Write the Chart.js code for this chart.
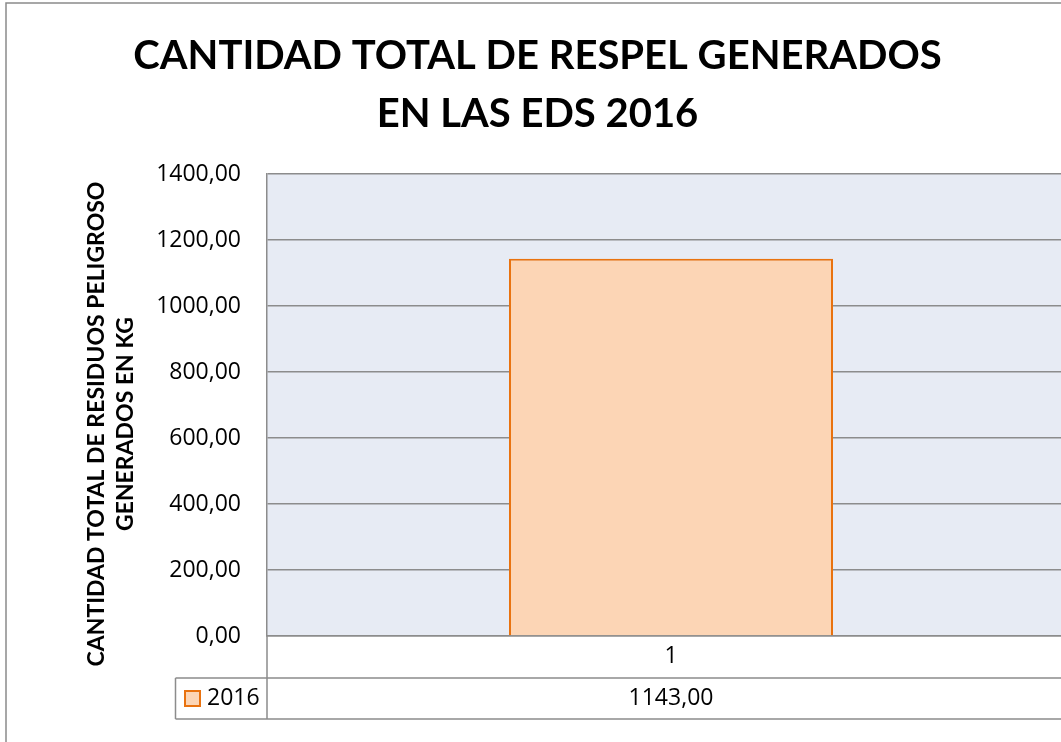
<!DOCTYPE html>
<html>
<head>
<meta charset="utf-8">
<title>Cantidad total de RESPEL generados en las EDS 2016</title>
<style>
  html, body { margin: 0; padding: 0; background: #ffffff; width: 1061px; height: 742px; overflow: hidden; }
  #wrap { position: absolute; left: 0; top: 0; width: 1075px; height: 742px; }
</style>
<script src="https://cdn.jsdelivr.net/npm/chart.js@4/dist/chart.umd.min.js"></script>
</head>
<body>
<div id="wrap"><canvas id="chart" width="1075" height="742"></canvas></div>
<script>
// Chart data
const categories = ['1'];
const seriesName = '2016';
const seriesValues = [1143.00];
const yTickValues = [0, 200, 400, 600, 800, 1000, 1200, 1400];
const titleLines = ['CANTIDAD TOTAL DE RESPEL GENERADOS', 'EN LAS EDS 2016'];
const yTitleLines = ['CANTIDAD TOTAL DE RESIDUOS PELIGROSO', 'GENERADOS EN KG'];

const TITLE_FONT = 'Lato, "Open Sans", "DejaVu Sans", sans-serif';
const TEXT_FONT = '"Open Sans", Lato, "DejaVu Sans", sans-serif';
const GRID = '#8c8c8c';
const PLOT_BG = '#e7ebf4';
const BAR_FILL = '#fcd5b5';
const BAR_LINE = '#e9720f';

// decimal comma, two decimals
const fmt = v => Number(v).toFixed(2).replace('.', ',');

// frame, plot background, titles and the data table under the x axis
const decorations = {
  id: 'decorations',
  beforeDraw(chart) {
    const { ctx, chartArea: a } = chart;
    ctx.save();
    ctx.fillStyle = '#ffffff';
    ctx.fillRect(0, 0, chart.width, chart.height);
    ctx.fillStyle = PLOT_BG;
    ctx.fillRect(a.left, a.top, a.right - a.left, a.bottom - a.top);
    // outer chart frame
    ctx.strokeStyle = '#8a8a8a';
    ctx.lineWidth = 1.5;
    ctx.strokeRect(6, 3, chart.width + 20, chart.height + 20);
    ctx.restore();
  },
  afterDraw(chart) {
    const { ctx, chartArea: a, scales } = chart;
    const x = scales.x;
    ctx.save();
    // main title
    ctx.fillStyle = '#000';
    ctx.textAlign = 'center';
    ctx.textBaseline = 'middle';
    ctx.font = 'bold 40px ' + TITLE_FONT;
    ctx.fillText(titleLines[0], chart.width / 2, 56);
    ctx.fillText(titleLines[1], chart.width / 2, 114);

    // rotated y axis title
    ctx.save();
    ctx.translate(97, 424);
    ctx.rotate(-Math.PI / 2);
    ctx.font = 'bold 23px ' + TITLE_FONT;
    ctx.fillText(yTitleLines[0], 0, 0);
    ctx.fillText(yTitleLines[1], 0, 29);
    ctx.restore();

    // data table
    const rowTop = x.bottom;          // bottom of category row
    const rowBottom = rowTop + 41;
    const legendLeft = 175.5;
    ctx.strokeStyle = GRID;
    ctx.lineWidth = 1.5;
    ctx.beginPath();
    ctx.moveTo(a.left, a.bottom);
    ctx.lineTo(a.left, rowBottom);
    ctx.moveTo(legendLeft, rowTop);
    ctx.lineTo(chart.width, rowTop);
    ctx.moveTo(legendLeft, rowBottom);
    ctx.lineTo(chart.width, rowBottom);
    ctx.moveTo(legendLeft, rowTop);
    ctx.lineTo(legendLeft, rowBottom);
    ctx.stroke();

    // legend key
    const midY = (rowTop + rowBottom) / 2;
    ctx.fillStyle = BAR_FILL;
    ctx.fillRect(185, midY - 7.5, 15, 15);
    ctx.strokeStyle = BAR_LINE;
    ctx.lineWidth = 2;
    ctx.strokeRect(185, midY - 7.5, 15, 15);
    ctx.fillStyle = '#000';
    ctx.font = '23px ' + TEXT_FONT;
    ctx.textAlign = 'left';
    ctx.fillText(seriesName, 207, midY);

    // values row
    ctx.textAlign = 'center';
    seriesValues.forEach((v, i) => {
      ctx.fillText(fmt(v), x.getPixelForValue(i), midY);
    });
    ctx.restore();
  }
};

new Chart(document.getElementById('chart'), {
  type: 'bar',
  data: {
    labels: categories,
    datasets: [{
      label: seriesName,
      data: seriesValues,
      backgroundColor: BAR_FILL,
      borderColor: BAR_LINE,
      borderWidth: 2,
      borderSkipped: 'start',
      categoryPercentage: 1,
      barPercentage: 0.401
    }]
  },
  options: {
    responsive: false,
    animation: false,
    events: [],
    layout: { padding: { top: 174, bottom: 64, left: 0, right: 0 } },
    plugins: {
      legend: { display: false },
      title: { display: false },
      tooltip: { enabled: false }
    },
    scales: {
      x: {
        grid: { display: false, drawTicks: false },
        border: { display: true, color: GRID, width: 1.5 },
        ticks: { color: '#000', font: { family: TEXT_FONT, size: 23 }, padding: 7 },
        afterFit(scale) { scale.height = 42; }
      },
      y: {
        min: yTickValues[0],
        max: yTickValues[yTickValues.length - 1],
        afterBuildTicks(scale) { scale.ticks = yTickValues.map(v => ({ value: v })); },
        grid: { color: GRID, lineWidth: 1.5, drawTicks: false },
        border: { display: true, color: GRID, width: 1.5 },
        ticks: {
          color: '#000',
          font: { family: TEXT_FONT, size: 23 },
          padding: 26,
          callback: v => fmt(v)
        },
        afterFit(scale) { scale.width = 267; }
      }
    }
  },
  plugins: [decorations]
});
</script>
</body>
</html>
